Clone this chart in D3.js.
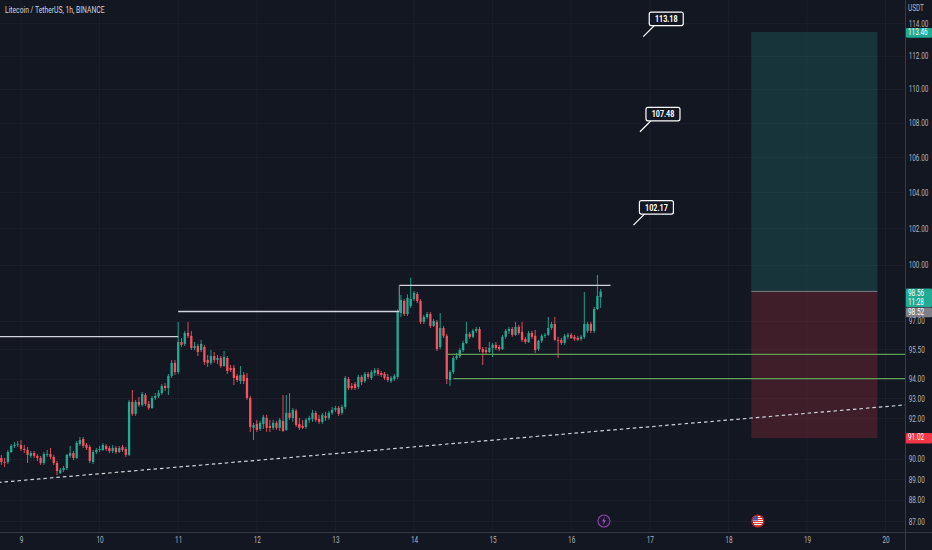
<!DOCTYPE html>
<html><head><meta charset="utf-8">
<script src="https://cdn.jsdelivr.net/npm/d3@7"></script>
<style>
html,body{margin:0;padding:0;background:#131722;}
svg{display:block;}
text{font-family:Roboto,"Noto Sans",sans-serif;}
</style></head><body>
<svg id="c" width="932" height="550"></svg>
<script>
// ---------- DATA ----------
const symbolTitle = "Litecoin / TetherUS, 1h, BINANCE";
const quoteCurrency = "USDT";
const firstCandle = Date.UTC(2023, 1, 8, 18); // hourly candles from day 8, 18:00

const opens = [
90.04,89.84,89.84,90.33,90.63,90.68,90.68,90.48,90.43,90.14,
90.28,90.14,90.04,89.79,90.19,90.23,90.09,89.79,89.31,89.45,
89.55,90.14,90.28,90.04,90.72,90.97,90.68,90.58,89.84,90.33,
90.43,90.43,90.63,90.53,90.38,90.53,90.33,90.58,90.48,90.19,
92.82,92.22,92.82,92.67,93.17,92.72,92.52,93.02,93.12,93.27,
93.63,93.52,94.14,94.81,94.34,95.89,95.79,96.36,96.21,95.58,
95.68,95.47,95.63,94.96,94.81,95.16,94.96,95.06,94.65,95.06,
94.55,94.55,94.14,93.88,94.19,94.04,93.02,91.52,91.72,91.47,
91.72,92.02,91.62,91.52,91.77,91.52,91.87,91.42,92.27,92.02,
92.37,91.72,91.62,91.57,91.92,91.97,92.27,91.97,91.82,92.12,
92.02,92.27,92.42,92.52,92.27,92.57,93.98,93.63,93.73,93.58,
94.09,93.88,94.24,94.04,94.29,94.44,94.29,94.24,94.09,93.88,
93.98,94.09,97.41,98.05,97.36,97.78,98.15,98.42,98.05,96.94,
97.20,97.36,96.73,96.94,95.63,96.62,96.21,93.93,94.34,95.06,
95.16,95.47,95.84,96.31,96.16,96.47,96.57,95.52,95.47,95.37,
95.58,95.74,95.63,95.52,96.16,96.47,96.57,96.26,96.68,96.42,
96.05,95.89,96.36,96.21,95.52,95.95,96.21,96.26,96.62,96.83,
96.00,96.00,95.84,96.16,96.26,96.16,96.10,96.05,96.16,96.47,
96.83,96.47,97.62,98.26];
const highs = [
90.19,90.04,90.43,90.72,90.82,90.87,90.92,90.68,90.58,90.38,
90.38,90.23,90.14,90.33,90.43,90.53,90.19,89.89,89.55,89.65,
90.23,90.63,90.38,90.87,91.07,91.07,90.77,90.68,90.43,90.53,
90.63,90.77,90.72,90.63,90.68,90.63,90.63,90.68,90.58,92.92,
93.42,92.92,93.07,93.32,93.27,92.87,93.12,93.27,93.42,93.73,
93.78,94.24,94.96,94.96,96.94,96.10,96.47,96.94,96.47,95.89,
95.79,96.00,95.74,95.22,95.47,95.37,95.22,95.16,95.42,95.16,
94.70,94.70,94.24,94.65,94.34,94.29,93.12,91.77,91.92,91.87,
92.17,92.17,91.92,91.92,91.87,92.02,93.17,93.17,93.27,92.52,
92.47,92.02,91.92,92.02,92.12,92.42,92.37,92.17,92.27,92.32,
92.37,92.57,92.62,92.62,92.67,94.14,94.09,93.78,93.83,94.19,
94.19,94.34,94.34,94.44,94.55,94.55,94.39,94.34,94.24,94.14,
94.24,97.60,98.37,98.15,98.40,99.30,98.58,98.53,98.15,97.31,
97.46,97.46,97.09,97.04,97.41,96.73,96.31,94.44,95.16,95.32,
95.58,95.95,96.94,96.42,96.57,96.68,96.68,95.63,95.63,95.89,
95.84,95.89,95.74,96.26,96.57,96.68,96.68,96.94,96.78,96.94,
96.16,96.47,96.47,96.52,96.00,96.31,96.36,97.20,96.94,97.20,
96.16,96.10,96.31,96.36,96.36,96.26,96.21,96.26,98.53,96.94,
96.94,97.73,99.44,98.69];
const lows = [
89.70,89.60,89.74,90.28,90.53,90.58,90.38,90.28,89.79,90.04,
90.04,89.89,89.70,89.70,90.09,89.99,89.70,89.21,89.26,89.35,
89.45,90.04,89.94,89.99,90.63,90.53,90.43,89.79,89.74,90.23,
90.33,90.38,90.38,90.28,90.28,90.23,90.28,90.33,90.09,90.14,
92.12,92.12,92.57,92.57,92.62,92.42,92.47,92.92,93.02,93.17,
93.37,93.17,94.04,94.19,94.24,95.63,95.68,96.10,95.47,95.47,
95.16,95.37,94.70,94.60,94.70,94.81,94.75,94.55,94.60,94.24,
94.34,93.68,93.83,93.73,93.73,92.92,91.32,90.92,91.32,91.37,
91.47,91.32,91.32,91.42,91.42,91.37,91.32,91.37,91.92,91.82,
91.57,91.42,91.47,91.47,91.77,91.82,91.82,91.72,91.72,91.87,
91.92,92.17,92.32,92.12,92.17,92.47,93.42,93.42,93.42,93.47,
93.68,93.78,93.98,93.93,94.14,94.14,94.09,93.93,93.83,93.78,
93.88,93.98,97.20,97.25,97.25,97.68,98.05,97.94,96.83,96.83,
97.09,96.62,96.68,95.42,95.52,96.10,93.73,93.63,94.24,94.96,
95.06,95.37,95.79,96.05,96.10,96.36,95.37,94.70,95.27,95.32,
95.11,95.47,95.42,95.47,96.05,96.31,96.16,96.21,96.26,95.89,
95.79,95.84,96.05,95.32,95.42,95.84,96.10,96.21,96.52,95.95,
95.06,95.74,95.74,96.05,96.05,95.95,95.95,95.95,96.05,96.36,
96.36,96.36,97.57,97.68];
const closes = [
89.84,89.79,90.33,90.63,90.68,90.72,90.48,90.43,90.19,90.28,
90.14,90.04,89.79,90.23,90.23,90.09,89.79,89.40,89.45,89.55,
90.19,90.28,90.04,90.77,90.92,90.63,90.53,89.89,90.33,90.43,
90.48,90.68,90.48,90.38,90.53,90.33,90.53,90.43,90.19,92.82,
92.22,92.82,92.67,93.22,92.72,92.52,93.02,93.12,93.27,93.63,
93.52,94.14,94.81,94.34,95.89,95.74,96.36,96.21,95.58,95.68,
95.37,95.79,94.86,94.81,95.16,94.96,95.06,94.65,95.11,94.39,
94.44,94.04,93.93,94.19,93.88,93.02,91.57,91.67,91.42,91.77,
92.07,91.52,91.52,91.77,91.52,91.92,91.37,92.27,92.02,92.42,
91.67,91.52,91.52,91.92,92.02,92.27,91.92,91.82,92.17,92.02,
92.27,92.42,92.52,92.22,92.57,94.04,93.52,93.52,93.52,94.09,
93.83,94.24,94.09,94.34,94.44,94.24,94.19,94.04,93.93,94.04,
94.14,97.46,98.10,97.36,98.21,98.15,98.48,98.05,96.94,97.20,
97.36,96.73,96.99,95.52,96.62,96.21,93.98,94.34,95.06,95.16,
95.47,95.84,96.31,96.16,96.47,96.57,95.52,95.37,95.37,95.58,
95.74,95.58,95.52,96.16,96.47,96.57,96.26,96.68,96.36,96.00,
95.89,96.36,96.16,95.47,95.95,96.21,96.26,96.62,96.83,96.00,
95.95,95.84,96.21,96.26,96.10,96.05,96.00,96.16,96.83,96.83,
96.47,97.62,98.32,98.56];

const dayTicks = [9,10,11,12,13,14,15,16,17,18,19,20];
const priceTicks = [114,112,110,108,106,104,102,100,97,95.5,94,93,92,90,89,88,87];

// drawn lines: [start time, end time, price]
const whiteLines = [
  [Date.UTC(2023,1,8,17), Date.UTC(2023,1,11,0), 96.17],
  [Date.UTC(2023,1,11,0), Date.UTC(2023,1,13,19,30), 97.49],
  [Date.UTC(2023,1,13,19,30), Date.UTC(2023,1,16,12), 98.88]
];
const connector = [Date.UTC(2023,1,13,19,30), 97.49, 98.88];
const greenRays = [
  [Date.UTC(2023,1,14,10), 95.25],
  [Date.UTC(2023,1,14,12), 94.00]
];
const trendLine = [[Date.UTC(2023,1,8,17), 88.85],[Date.UTC(2023,1,20,6), 92.67]];
const callouts = [
  [Date.UTC(2023,1,16,22), 113.18],
  [Date.UTC(2023,1,16,21), 107.48],
  [Date.UTC(2023,1,16,19), 102.17]
];
const position = {start: Date.UTC(2023,1,18,7), end: Date.UTC(2023,1,19,21,30),
                  entry: 98.56, target: 113.46, stop: 91.02};
const lastPrice = 98.56, countdown = "11:28", prevPrice = 98.52;
const eventIcons = [Date.UTC(2023,1,16,10), Date.UTC(2023,1,18,9)];

// ---------- CHART ----------
const W = 932, H = 550, axisX = 905, axisY = 532;
const SX = 0.73, FS = 8.8;
const UP = "#22ab94", DOWN = "#f7525f", TXT = "#b2b5be";
const svg = d3.select("#c");
svg.append("rect").attr("width", W).attr("height", H).attr("fill", "#131722");

const x = d3.scaleUtc().domain([Date.UTC(2023,1,9), Date.UTC(2023,1,20)]).range([21, 885.6]);
const y = d3.scaleLog().domain([86.445, 115.45]).range([533, 0]);
const dayDates = dayTicks.map(d => new Date(Date.UTC(2023,1,d)));
const times = closes.map((c, i) => new Date(firstCandle + i * 3600e3));

svg.append("clipPath").attr("id","plot").append("rect")
  .attr("x",0).attr("y",0).attr("width",axisX).attr("height",axisY);
const plot = svg.append("g").attr("clip-path","url(#plot)");

// grid
plot.selectAll(".gx").data(dayDates).join("line")
  .attr("x1", d => x(d)).attr("x2", d => x(d)).attr("y1",0).attr("y2",axisY)
  .attr("stroke","#1a1e2c").attr("stroke-width",1);
plot.selectAll(".gy").data(priceTicks).join("line")
  .attr("x1",0).attr("x2",axisX).attr("y1", d => Math.round(y(d))+0.5).attr("y2", d => Math.round(y(d))+0.5)
  .attr("stroke","#1a1e2c").attr("stroke-width",1);

// position box
const pb = plot.append("g");
pb.append("rect").attr("x", x(position.start)).attr("width", x(position.end)-x(position.start))
  .attr("y", y(position.target)).attr("height", y(position.entry)-y(position.target))
  .attr("fill","rgba(34,171,148,0.2)");
pb.append("rect").attr("x", x(position.start)).attr("width", x(position.end)-x(position.start))
  .attr("y", y(position.entry)).attr("height", y(position.stop)-y(position.entry))
  .attr("fill","rgba(242,54,69,0.2)");
pb.append("line").attr("x1", x(position.start)).attr("x2", x(position.end))
  .attr("y1", y(position.entry)).attr("y2", y(position.entry))
  .attr("stroke","#787b86").attr("stroke-width",1);

// candles
const bw = 2.3;
const cg = plot.append("g");
closes.forEach((c, i) => {
  const o = opens[i], h = Math.max(highs[i], o, c), l = Math.min(lows[i], o, c);
  const col = c >= o ? UP : DOWN;
  const cx = x(times[i]);
  cg.append("line").attr("x1", cx).attr("x2", cx).attr("y1", y(h)).attr("y2", y(l))
    .attr("stroke", col).attr("stroke-width", 0.9);
  const top = y(Math.max(o,c)), bot = y(Math.min(o,c));
  cg.append("rect").attr("x", cx - bw/2).attr("width", bw)
    .attr("y", top).attr("height", Math.max(0.8, bot - top)).attr("fill", col);
});

// white horizontal lines
plot.selectAll(".wl").data(whiteLines).join("line")
  .attr("x1", d => x(d[0])).attr("x2", d => x(d[1]))
  .attr("y1", d => y(d[2])).attr("y2", d => y(d[2]))
  .attr("stroke","#d1d4dc").attr("stroke-width",1.4);
plot.append("line").attr("x1", x(connector[0])).attr("x2", x(connector[0]))
  .attr("y1", y(connector[1])).attr("y2", y(connector[2]))
  .attr("stroke","#9598a1").attr("stroke-width",1);
// green rays
plot.selectAll(".gl").data(greenRays).join("line")
  .attr("x1", d => x(d[0])).attr("x2", axisX)
  .attr("y1", d => y(d[1])).attr("y2", d => y(d[1]))
  .attr("stroke","#5f9e55").attr("stroke-width",1.2);
// dashed trend line
plot.append("line")
  .attr("x1", x(trendLine[0][0])).attr("y1", y(trendLine[0][1]))
  .attr("x2", x(trendLine[1][0])).attr("y2", y(trendLine[1][1]))
  .attr("stroke","#d1d4dc").attr("stroke-width",1.2).attr("stroke-dasharray","3.5,3");

// callouts
callouts.forEach(([t, p]) => {
  const px = x(t), py = y(p);
  plot.append("line").attr("x1", px).attr("y1", py).attr("x2", px+11).attr("y2", py-11)
    .attr("stroke","#ffffff").attr("stroke-width",1.2);
  plot.append("rect").attr("x", px+6).attr("y", py-24.5).attr("width", 34).attr("height", 13.5)
    .attr("rx", 2).attr("fill","#131722").attr("stroke","#ffffff").attr("stroke-width",1.2);
  plot.append("text").attr("transform", `translate(${px+23},${py-14.6}) scale(0.8,1)`)
    .attr("text-anchor","middle").attr("font-size", 9).attr("font-weight","bold")
    .attr("fill","#ffffff").text(p.toFixed(2));
});

// event icons
const ic1 = svg.append("g").attr("transform", `translate(${x(eventIcons[0])},521)`);
ic1.append("circle").attr("r",6).attr("fill","#1c1830").attr("stroke","#8e44ad").attr("stroke-width",1.1);
ic1.append("path").attr("d","M1,-4 L-2,0.5 L0,0.5 L-1,4 L2,-0.7 L0,-0.7 Z").attr("fill","#a05bc8");
const ic2 = svg.append("g").attr("transform", `translate(${x(eventIcons[1])},521)`);
ic2.append("clipPath").attr("id","flagc").append("circle").attr("r",5.4);
const fg = ic2.append("g").attr("clip-path","url(#flagc)");
d3.range(-6,6,2).forEach(k => {
  fg.append("rect").attr("x",-6).attr("y",k).attr("width",12).attr("height",1).attr("fill","#e53935");
  fg.append("rect").attr("x",-6).attr("y",k+1).attr("width",12).attr("height",1).attr("fill","#f5f5f5");
});
fg.append("rect").attr("x",-6).attr("y",-6).attr("width",6).attr("height",5.5).attr("fill","#3f51b5");
ic2.append("circle").attr("r",6).attr("fill","none").attr("stroke","#c62828").attr("stroke-width",1.2);

// separators
svg.append("line").attr("x1", axisX+0.5).attr("x2", axisX+0.5).attr("y1",0).attr("y2",H)
  .attr("stroke","#363a45");
svg.append("line").attr("x1",0).attr("x2",W).attr("y1", axisY+0.5).attr("y2", axisY+0.5)
  .attr("stroke","#363a45");

// axes
const ax = svg.append("g").attr("transform", `translate(0,${axisY})`)
  .call(d3.axisBottom(x).tickValues(dayDates).tickFormat(d3.utcFormat("%-d")).tickSize(0).tickPadding(5));
ax.select(".domain").remove();
ax.selectAll("text").attr("fill", TXT).attr("font-size", FS).attr("font-family","Roboto")
  .attr("transform", `scale(${SX},1)`);

const ay = svg.append("g").attr("transform", `translate(${axisX},0)`)
  .call(d3.axisRight(y).tickValues(priceTicks).tickFormat(d3.format(".2f")).tickSize(0).tickPadding(5));
ay.select(".domain").remove();
ay.selectAll("text").attr("fill", TXT).attr("font-size", FS).attr("font-family","Roboto")
  .attr("transform", `scale(${SX},1)`);

function label(xp, yp, s, col, anchor, fs, weight) {
  return svg.append("text").attr("transform", `translate(${xp},${yp}) scale(${SX},1)`)
    .attr("fill", col).attr("font-size", fs || FS).attr("text-anchor", anchor || "start")
    .attr("font-weight", weight || "normal").text(s);
}
label(908, 11, quoteCurrency, TXT);
label(5, 13, symbolTitle, "#d1d4dc", "start", 9.3);

// axis price tags
function tag(top, h, bg, lines) {
  svg.append("rect").attr("x", axisX+1).attr("y", top).attr("width", W-axisX-1).attr("height", h)
    .attr("fill", bg).attr("rx", 1);
  lines.forEach((s, k) => label(908, top + 7.4 + k*9, s, "#ffffff"));
}
const yT = y(position.target), yE = y(lastPrice), yS = y(position.stop);
tag(yT - 4, 9.8, UP, [position.target.toFixed(2)]);
tag(yE - 3, 18.5, UP, [lastPrice.toFixed(2), countdown]);
tag(yE + 16.2, 9.6, "#7c7f88", [prevPrice.toFixed(2)]);
tag(yS - 5, 10.5, "#f23645", [position.stop.toFixed(2)]);
</script>
</body></html>
